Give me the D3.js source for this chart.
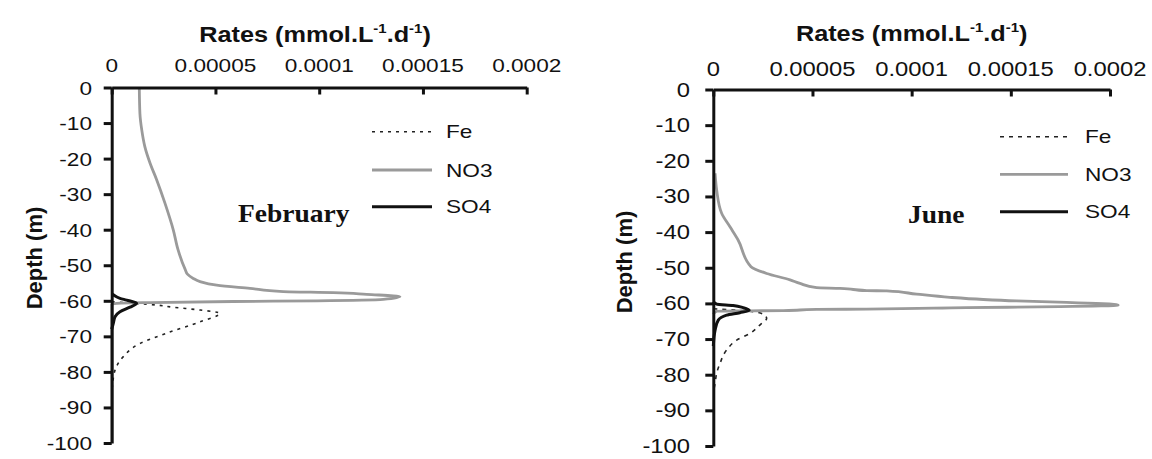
<!DOCTYPE html>
<html><head><meta charset="utf-8">
<script src="https://cdn.jsdelivr.net/npm/d3@7"></script>
<style>
html,body{margin:0;padding:0;background:#fff;}
svg{display:block;}
text{font-family:"Liberation Sans",Arial,sans-serif;fill:#111;}
</style></head>
<body>
<svg id="c" width="1152" height="459"></svg>
<script>
// ---- Data ----
const xTicks = [0, 0.00005, 0.0001, 0.00015, 0.0002];
const xTickLabels = ["0", "0.00005", "0.0001", "0.00015", "0.0002"];
const yTicks = [0, -10, -20, -30, -40, -50, -60, -70, -80, -90, -100];
const seriesNames = ["Fe", "NO3", "SO4"];
const panelLabels = ["February", "June"];

// February
const febNO3Depth = [0,-7.3,-12,-16.7,-21.3,-26,-32.6,-40.1,-45.7,-51.3,-52.5,-53.7,-54.6,-55.6,-56.5,-57.4,-57.7,-58.2,-58.8,-59.6,-60,-60.2,-60.5,-60.7,-61,-100];
const febNO3 = [1.33e-5,1.36e-5,1.45e-5,1.60e-5,1.85e-5,2.17e-5,2.57e-5,2.97e-5,3.2e-5,3.55e-5,3.65e-5,3.93e-5,4.26e-5,5.06e-5,6.66e-5,8.27e-5,1.068e-4,1.229e-4,1.389e-4,1.309e-4,9.88e-5,5.86e-5,1.85e-5,2.4e-6,0,0];
const febFeDepth = [-60.3,-61.2,-61.8,-62.6,-63.5,-65.9,-69.1,-72,-75.7,-79.5,-83.2,-86];
const febFe = [0,2.16e-5,2.96e-5,4.26e-5,5.22e-5,4.26e-5,2.65e-5,1.36e-5,5.6e-6,1.6e-6,0.5e-6,0];
const febSO4Depth = [-58,-58.4,-59.3,-59.8,-60.7,-61.8,-63.1,-64.5,-66.3,-68];
const febSO4 = [0,1e-6,4e-6,7.2e-6,1.2e-5,8.8e-6,4e-6,1.6e-6,0.8e-6,0];

// June
const junNO3Depth = [-23.5,-28.2,-34.7,-38.5,-42.2,-49.7,-51.6,-53.4,-54.4,-55.6,-55.8,-56.4,-56.5,-57.4,-58.3,-58.9,-59.3,-59.7,-60.5,-60.9,-61.2,-61.6,-61.7,-62,-62.1,-62.2,-63];
const junNO3 = [0.9e-6,1.7e-6,4.2e-6,8.4e-6,1.25e-5,1.9e-5,2.69e-5,3.87e-5,4.37e-5,5.21e-5,6.39e-5,7.73e-5,8.74e-5,1.025e-4,1.193e-4,1.361e-4,1.529e-4,1.781e-4,2.041e-4,1.747e-4,1.277e-4,7.73e-5,5.21e-5,3.53e-5,1.85e-5,1.7e-6,0];
const junFeDepth = [-61.5,-62.3,-63,-64.2,-66,-68.4,-70.3,-73.1,-76.8,-79.6,-82.4,-85];
const junFe = [0,2.0e-5,2.5e-5,2.69e-5,2.36e-5,1.85e-5,1.18e-5,6.7e-6,3.4e-6,1.7e-6,0.9e-6,0];
const junSO4Depth = [-59.5,-60.2,-60.6,-61.2,-61.9,-62.6,-63.3,-64.7,-67.5,-72];
const junSO4 = [0,1.7e-6,1e-5,1.5e-5,1.81e-5,1.34e-5,6.7e-6,2.5e-6,0.9e-6,0];

// ---- Drawing ----
const svg = d3.select("#c");
const SX = 1.19;

function stext(g, x, y, str, size, anchor, sx, extra) {
  const gg = g.append("g").attr("transform", `translate(${x},${y}) scale(${sx},1)`);
  const t = gg.append("text").attr("font-size", size).attr("text-anchor", anchor || "start").text(str);
  if (extra) extra(t);
  return t;
}

const panels = [
  { x0: 111.7, x1: 526.7, y0: 87.5, y1: 443, label: panelLabels[0], labelX: 238, labelY: 222,
    titleX: 315, titleY: 41.7, tickLabY: 71.7, ytickX: 92, depthX: 42, depthY: 258,
    legX0: 372, legX1: 432, legTX: 446, legY: [131.7, 170, 206.7], dash: "3,5",
    fe: [febFeDepth, febFe], no3: [febNO3Depth, febNO3], so4: [febSO4Depth, febSO4], fs: 19 },
  { x0: 713.3, x1: 1110, y0: 89.5, y1: 446, label: panelLabels[1], labelX: 908, labelY: 223,
    titleX: 911.7, titleY: 40.7, tickLabY: 76, ytickX: 690, depthX: 632, depthY: 262,
    legX0: 1000, legX1: 1068, legTX: 1085, legY: [136.7, 174.3, 211.7], dash: "4,5",
    fe: [junFeDepth, junFe], no3: [junNO3Depth, junNO3], so4: [junSO4Depth, junSO4], fs: 20 }
];

panels.forEach(p => {
  const x = d3.scaleLinear().domain([0, 0.0002]).range([p.x0, p.x1]);
  const y = d3.scaleLinear().domain([0, -100]).range([p.y0, p.y1]);
  const g = svg.append("g");

  const line = d3.line().x(d => x(d[1])).y(d => y(d[0])).curve(d3.curveMonotoneY);
  const zip = (a) => a[0].map((dd, i) => [dd, a[1][i]]);

  // curves
  g.append("path").datum(zip(p.fe)).attr("d", line)
    .attr("fill", "none").attr("stroke", "#222").attr("stroke-width", 1.6).attr("stroke-dasharray", p.dash);
  g.append("path").datum(zip(p.no3)).attr("d", line)
    .attr("fill", "none").attr("stroke", "#9a9a9a").attr("stroke-width", 2.8).attr("stroke-linejoin", "round");
  g.append("path").datum(zip(p.so4)).attr("d", line)
    .attr("fill", "none").attr("stroke", "#111").attr("stroke-width", 3).attr("stroke-linejoin", "round");

  // axes
  const xa = g.append("g").attr("transform", `translate(0,${p.y0})`)
    .call(d3.axisTop(x).tickValues(xTicks).tickSizeInner(-7).tickSizeOuter(0).tickFormat(""));
  const ya = g.append("g").attr("transform", `translate(${p.x0},0)`)
    .call(d3.axisLeft(y).tickValues(yTicks).tickSizeInner(8).tickSizeOuter(0).tickFormat(""));
  [xa, ya].forEach(a => {
    a.selectAll(".domain").attr("stroke", "#111").attr("stroke-width", 3);
    a.selectAll(".tick line").attr("stroke", "#111").attr("stroke-width", 3);
  });

  // tick labels
  xTicks.forEach((v, i) => stext(g, x(v), p.tickLabY, xTickLabels[i], p.fs, "middle", SX));
  yTicks.forEach(v => stext(g, p.ytickX, y(v) + 7, String(v), p.fs, "end", SX));

  // title
  stext(g, p.titleX, p.titleY, "", 22, "middle", 1.15, t => {
    t.attr("font-weight", "bold");
    t.append("tspan").text("Rates (mmol.L");
    t.append("tspan").attr("dy", -9).attr("font-size", 13).text("-1");
    t.append("tspan").attr("dy", 9).text(".d");
    t.append("tspan").attr("dy", -9).attr("font-size", 13).text("-1");
    t.append("tspan").attr("dy", 9).text(")");
  });

  // depth label
  g.append("g").attr("transform", `translate(${p.depthX},${p.depthY}) rotate(-90)`)
    .append("text").attr("text-anchor", "middle").attr("font-size", 22).attr("font-weight", "bold").text("Depth (m)");

  // month label
  stext(g, p.labelX, p.labelY, p.label, 25, "start", 1.1, t =>
    t.style("font-family", "'Liberation Serif','Times New Roman',serif").attr("font-weight", "bold"));

  // legend
  const styles = [
    { c: "#222", w: 1.6, d: p.dash },
    { c: "#9a9a9a", w: 2.8, d: null },
    { c: "#111", w: 3, d: null }
  ];
  seriesNames.forEach((n, i) => {
    const ly = p.legY[i];
    const l = g.append("line").attr("x1", p.legX0).attr("x2", p.legX1).attr("y1", ly).attr("y2", ly)
      .attr("stroke", styles[i].c).attr("stroke-width", styles[i].w);
    if (styles[i].d) l.attr("stroke-dasharray", styles[i].d);
    stext(g, p.legTX, ly + 6.5, n, 19, "start", SX);
  });
});
</script>
</body></html>
